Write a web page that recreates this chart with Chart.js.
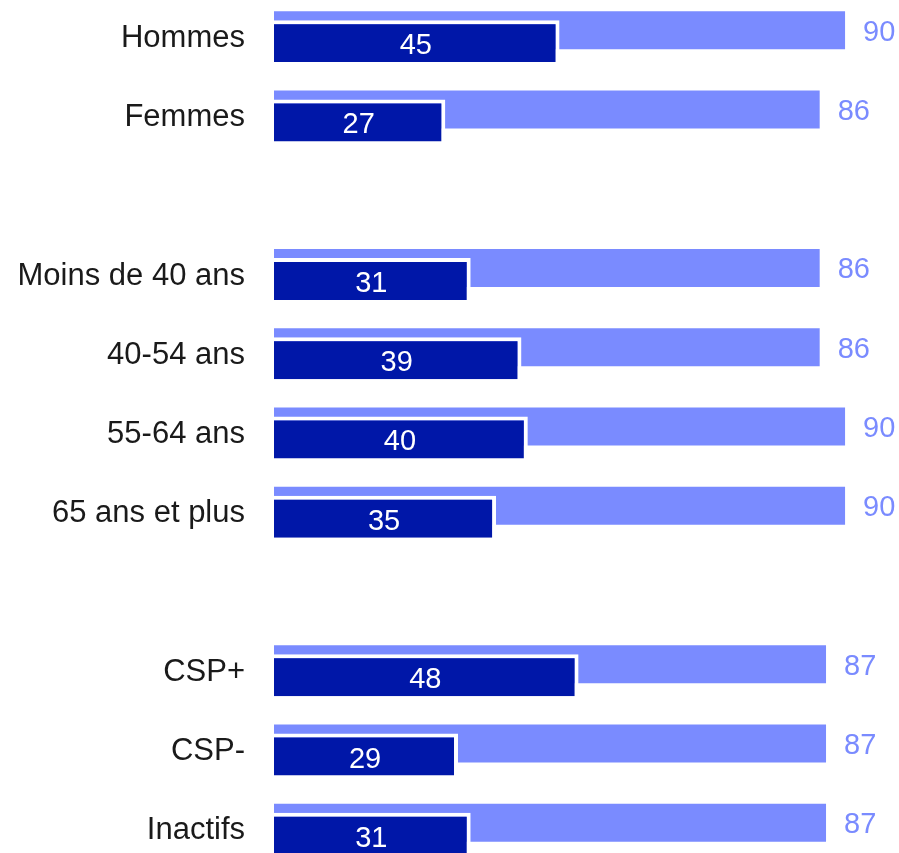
<!DOCTYPE html>
<html>
<head>
<meta charset="utf-8">
<script src="https://cdn.jsdelivr.net/npm/chart.js@4"></script>
<style>
  html, body { margin: 0; padding: 0; background: #ffffff; overflow: hidden; width: 899px; height: 853px; }
  #wrap { position: absolute; left: 0; top: -4px; width: 899px; height: 872px; }
</style>
</head>
<body>
<div id="wrap"><canvas id="c"></canvas></div>
<script>
const categories = ['Hommes', 'Femmes', '', 'Moins de 40 ans', '40-54 ans', '55-64 ans', '65 ans et plus', '', 'CSP+', 'CSP-', 'Inactifs'];
const totalValues = [90, 86, null, 86, 86, 90, 90, null, 87, 87, 87];
const subValues = [45, 27, null, 31, 39, 40, 35, null, 48, 29, 31];

const LIGHT = '#7a8bff';
const DARK = '#0017a8';
const FONT = '"Liberation Sans", Arial, sans-serif';

const labelPlugin = {
  id: 'valueLabels',
  afterDatasetsDraw(chart) {
    const ctx = chart.ctx;
    ctx.save();
    ctx.textBaseline = 'middle';
    const light = chart.getDatasetMeta(1);
    ctx.font = '29px ' + FONT;
    ctx.fillStyle = LIGHT;
    ctx.textAlign = 'left';
    light.data.forEach((el, i) => {
      if (totalValues[i] == null) return;
      ctx.fillText(String(totalValues[i]), el.x + 18, el.y + 2.5);
    });
    const dark = chart.getDatasetMeta(2);
    ctx.fillStyle = '#ffffff';
    ctx.textAlign = 'center';
    dark.data.forEach((el, i) => {
      if (subValues[i] == null) return;
      ctx.fillText(String(subValues[i]), (el.base + el.x) / 2 - 1, el.y + 5);
    });
    ctx.restore();
  }
};

new Chart(document.getElementById('c'), {
  type: 'bar',
  data: {
    labels: categories,
    datasets: [
      { label: 'slot', data: [], stack: 'A', order: 0 },
      {
        label: 'Total', data: totalValues, stack: 'A', order: 2,
        backgroundColor: LIGHT, borderWidth: 0,
        categoryPercentage: 0.2774, barPercentage: 3.4545
      },
      {
        label: 'Sous-total', data: subValues, stack: 'B', order: 1,
        backgroundColor: DARK, borderColor: '#ffffff',
        borderWidth: { top: 4, right: 4, bottom: 0, left: 0 }, borderSkipped: false,
        categoryPercentage: 0.2774, barPercentage: 3.818
      }
    ]
  },
  options: {
    indexAxis: 'y',
    responsive: true,
    maintainAspectRatio: false,
    animation: false,
    layout: { padding: 0 },
    plugins: { legend: { display: false }, tooltip: { enabled: false } },
    scales: {
      x: { display: false, min: 0, max: 98.5 },
      y: {
        grid: { display: false, drawTicks: false },
        border: { display: false },
        afterFit(scale) { scale.width = 274; scale.paddingTop = 0; scale.paddingBottom = 0; },
        ticks: { color: '#1a1a1a', font: { family: FONT, size: 31 }, padding: 29, labelOffset: 2.5, autoSkip: false }
      }
    }
  },
  plugins: [labelPlugin]
});
</script>
</body>
</html>
